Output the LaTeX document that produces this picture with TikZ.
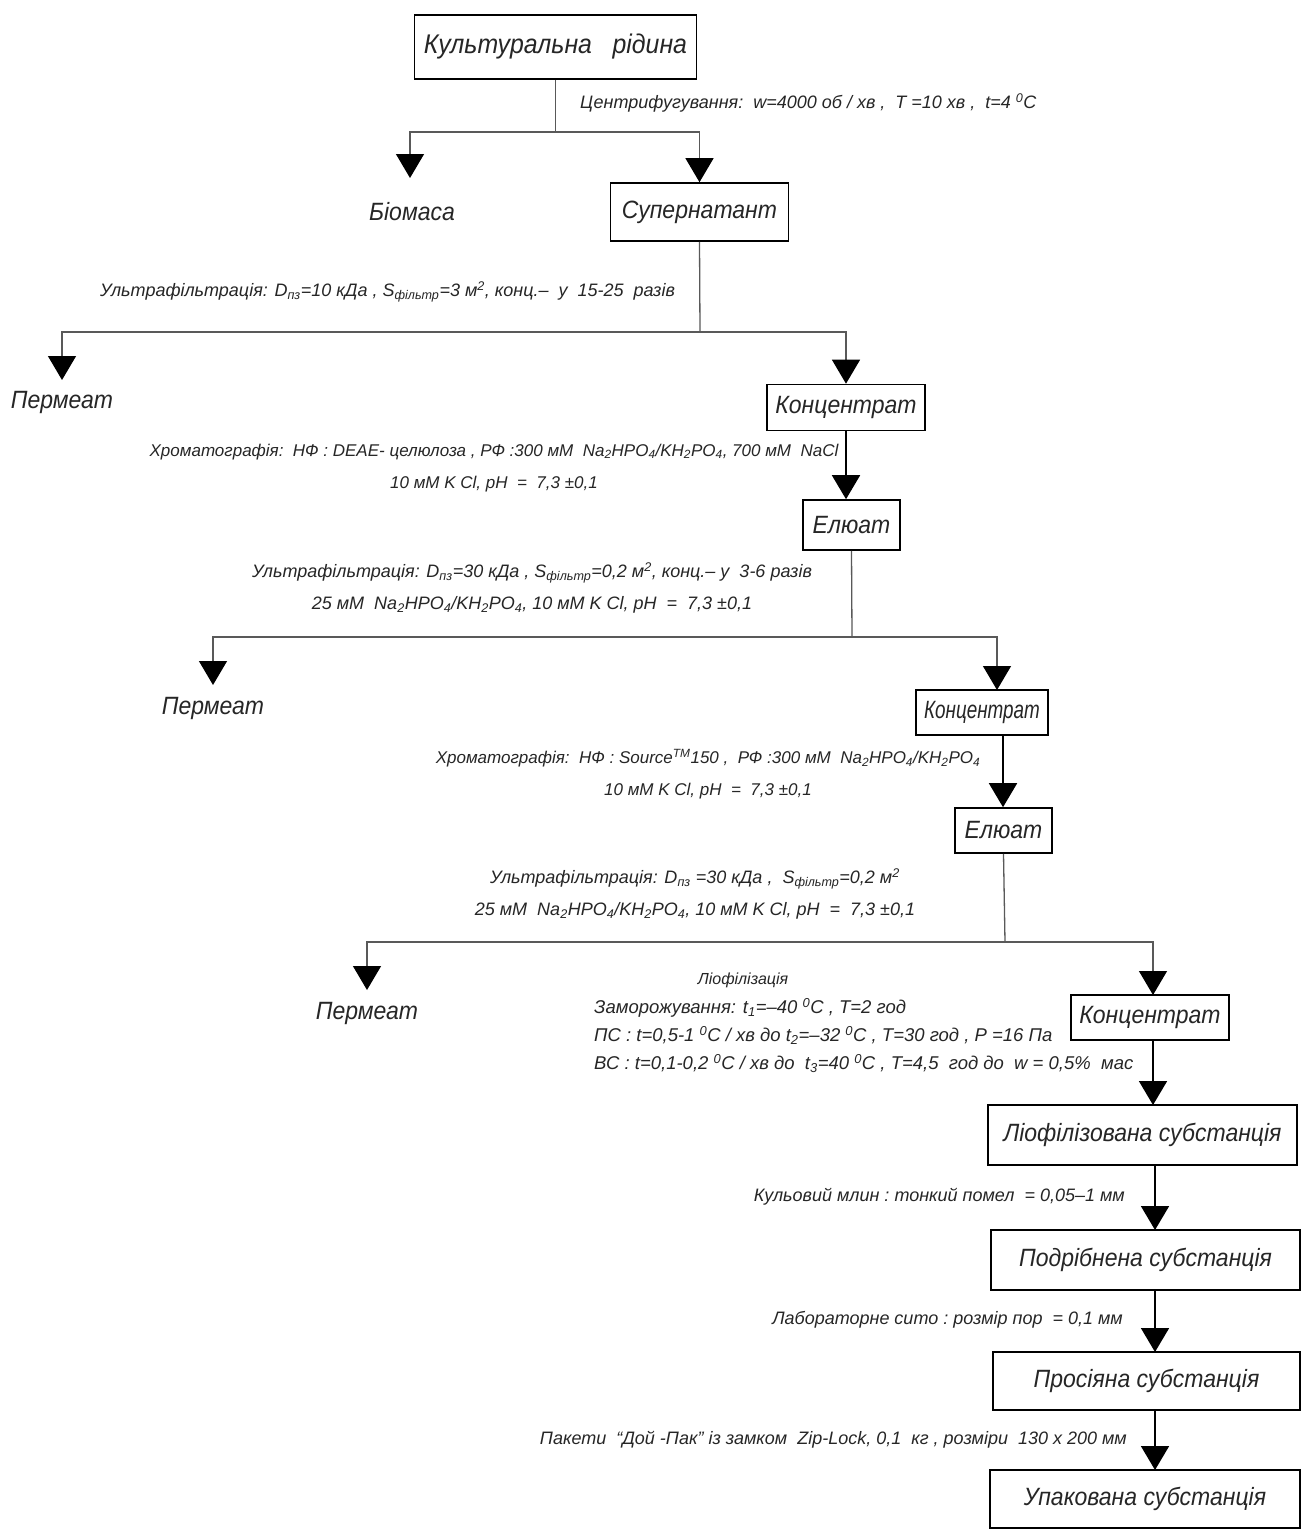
\documentclass[tikz,border=0pt]{standalone}
\usepackage{fontspec}
\usepackage{graphicx}
\setmainfont{Liberation Sans}[FakeStretch=0.92]
\newfontfamily\notefont{Liberation Sans}[FakeStretch=1.0]
\usetikzlibrary{arrows.meta}
\definecolor{ink}{gray}{0.15}
\definecolor{wire}{gray}{0.35}
\newcommand{\bigfs}{\fontsize{27}{32}\selectfont\itshape}
\newcommand{\midfs}{\fontsize{25}{29}\selectfont\itshape}
\newcommand{\smallfs}{\notefont\fontsize{18}{32}\selectfont\itshape}
\newcommand{\chromfs}{\notefont\fontsize{17}{32}\selectfont\itshape}
\begin{document}
\begin{tikzpicture}[x=1pt,y=-1pt,
  every node/.style={inner sep=0pt, text=ink},
  box/.style={draw=black, line width=1.6pt, font=\midfs},
  outlet/.style={font=\midfs},
  note/.style={font=\smallfs, align=center},
  branch/.style={draw=wire, line width=1.3pt},
  feed/.style={draw=wire, line width=1.3pt, -{Triangle[width=28pt,length=24pt,color=black]}},
  chain/.style={draw=black, line width=1.8pt, -{Triangle[width=28pt,length=24pt]}}
]
\useasboundingbox (0,0) rectangle (1302,1531);
\fill[white] (0,0) rectangle (1302,1531);

% process stages
\node[box, font=\bigfs, minimum width=282pt, minimum height=64pt] (k1) at (555.5,47) {Культуральна\ \ \ рідина};
\node[box, minimum width=178pt, minimum height=58pt] (sup) at (699.5,212) {Супернатант};
\node[box, minimum width=158pt, minimum height=46pt] (conc1) at (846,407.5) {Концентрат};
\node[box, minimum width=97pt, minimum height=50pt] (el1) at (851.5,525) {Елюат};
\node[box, minimum width=132pt, minimum height=45pt] (conc2) at (982,712.5) {\scalebox{0.82}[1]{Концентрат}};
\node[box, minimum width=97pt, minimum height=45pt] (el2) at (1003.5,830.5) {Елюат};
\node[box, minimum width=158pt, minimum height=45pt] (conc3) at (1150,1017.5) {Концентрат};
\node[box, minimum width=309pt, minimum height=60pt] (lyo) at (1142.5,1135) {Ліофілізована субстанція};
\node[box, minimum width=309pt, minimum height=60pt] (pod) at (1145.5,1260) {Подрібнена субстанція};
\node[box, minimum width=307pt, minimum height=58pt] (pro) at (1146.5,1381) {Просіяна субстанція};
\node[box, minimum width=310pt, minimum height=58pt] (upa) at (1145,1499) {Упакована субстанція};

% side products
\node[outlet] (bio) at (412,212) {Біомаса};
\node[outlet] (per1) at (62,402) {Пермеат};
\node[outlet] (per2) at (213,708) {Пермеат};
\node[outlet] (per3) at (367,1013) {Пермеат};

% branch points and arrow ends
\coordinate (j1) at (555.5,132);
\coordinate (bt) at (410,178);
\coordinate (j2) at (700,332);
\coordinate (p1) at (62,380);
\coordinate (j3) at (852,637);
\coordinate (p2) at (213,685);
\coordinate (c2t) at (997,690);
\coordinate (c2b) at (1003,735);
\coordinate (j4) at (1005,942);
\coordinate (p3) at (367,990);
\coordinate (c3t) at (1153,995);
\coordinate (lyt) at (1153,1105);
\coordinate (lyb) at (1155,1165);
\coordinate (pdt) at (1155,1230);
\coordinate (pdb) at (1155,1290);
\coordinate (prt) at (1155,1352);
\coordinate (prb) at (1155,1410);
\coordinate (upt) at (1155,1470);

% centrifugation
\draw[branch] (k1.south) -- (j1);
\draw[feed] (j1) -| (bt);
\draw[feed] (j1) -| (sup.north);
% first ultrafiltration
\draw[branch] (sup.south) -- (j2);
\draw[feed] (j2) -| (p1);
\draw[feed] (j2) -| (conc1.north);
% first chromatography
\draw[chain] (conc1.south) -- (conc1.south |- el1.north);
% second ultrafiltration
\draw[branch] (el1.south) -- (j3);
\draw[feed] (j3) -| (p2);
\draw[feed] (j3) -| (c2t);
% second chromatography
\draw[chain] (c2b) -- (c2b |- el2.north);
% third ultrafiltration
\draw[branch] (el2.south) -- (j4);
\draw[feed] (j4) -| (p3);
\draw[feed] (j4) -| (c3t);
% lyophilization, milling, sieving, packing
\draw[chain] (conc3.south -| lyt) -- (lyt);
\draw[chain] (lyb) -- (pdt);
\draw[chain] (pdb) -- (prt);
\draw[chain] (prb) -- (upt);

% process conditions
\node[note, anchor=west] (n1) at (580,103) {Центрифугування:\ \ w=4000 об / хв ,\ \ T =10 хв ,\ \ t=4 \textsuperscript{0}C};
\node[note, anchor=west] (n2) at (100,292) {Ультрафільтрація: D\textsubscript{пз}=10 кДа ,\ S\textsubscript{фільтр}=3 м\textsuperscript{2}, конц.– \ у\ \ 15-25\ \ разів};
\node[note, font=\chromfs] (n3) at (494,468) {Хроматографія:\ \ НФ : DEAE- целюлоза , РФ :300 мМ\ \ Na\textsubscript{2}HPO\textsubscript{4}/KH\textsubscript{2}PO\textsubscript{4}, 700 мМ\ \ NaCl\\10 мМ K Cl, pH\ \ = \ 7,3 ±0,1};
\node[note] (n4) at (532,588) {Ультрафільтрація: D\textsubscript{пз}=30 кДа ,\ S\textsubscript{фільтр}=0,2 м\textsuperscript{2},\ конц.–\ у\ \ 3-6 разів\\25 мМ\ \ Na\textsubscript{2}HPO\textsubscript{4}/KH\textsubscript{2}PO\textsubscript{4}, 10 мМ K Cl, pH\ \ = \ 7,3 ±0,1};
\node[note, font=\chromfs] (n5) at (708,774) {Хроматографія:\ \ НФ : Source\textsuperscript{TM}150 ,\ \ РФ :300 мМ\ \ Na\textsubscript{2}HPO\textsubscript{4}/KH\textsubscript{2}PO\textsubscript{4}\\10 мМ K Cl, pH\ \ = \ 7,3 ±0,1};
\node[note] (n6) at (695,894) {Ультрафільтрація: D\textsubscript{пз} =30 кДа ,\ \ S\textsubscript{фільтр}=0,2 м\textsuperscript{2}\\25 мМ\ \ Na\textsubscript{2}HPO\textsubscript{4}/KH\textsubscript{2}PO\textsubscript{4}, 10 мМ K Cl, pH\ \ = \ 7,3 ±0,1};
\node[note, font=\notefont\fontsize{16}{20}\selectfont\itshape] (n7t) at (743,980) {Ліофілізація};
\node[note, align=left, anchor=north west, font=\notefont\fontsize{18.5}{28}\selectfont\itshape] (n7) at (594,998) {Заморожування: t\textsubscript{1}=–40 \textsuperscript{0}C ,\ T=2 год\\ПС : t=0,5-1 \textsuperscript{0}C / хв до t\textsubscript{2}=–32 \textsuperscript{0}C , T=30 год , P =16 Па\\ВС : t=0,1-0,2 \textsuperscript{0}C / хв\ до\ \ t\textsubscript{3}=40 \textsuperscript{0}C ,\ T=4,5\ \ год\ до\ \ w = 0,5\%\ \ мас};
\node[note, anchor=east] (n8) at (1125,1197) {Кульовий млин :\ тонкий помел\ \ = 0,05–1 мм};
\node[note, anchor=east] (n9) at (1123,1320) {Лабораторне сито :\ розмір пор\ \ = 0,1 мм};
\node[note, anchor=east] (n10) at (1127,1440) {Пакети\ \ “Дой -Пак”\ із замком\ \ Zip-Lock, 0,1\ \ кг ,\ розміри\ \ 130 x 200 мм};
\end{tikzpicture}
\end{document}
